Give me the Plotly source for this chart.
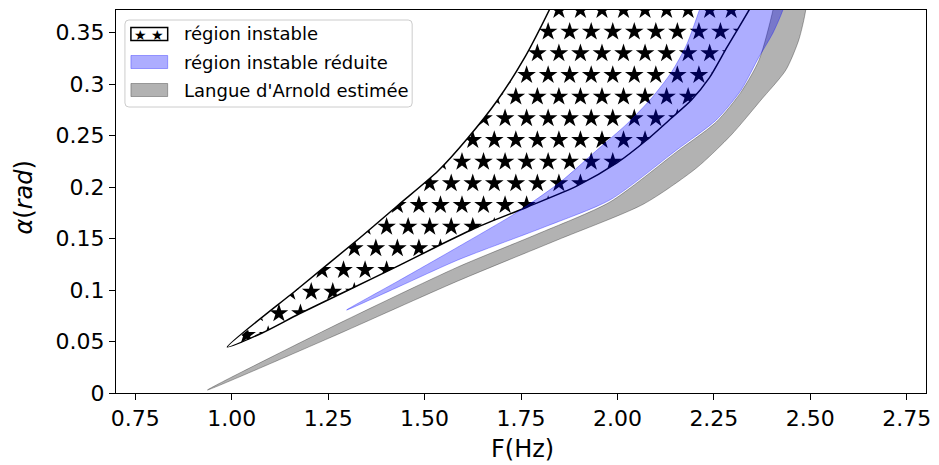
import numpy as np
import plotly.graph_objects as go

# ---------------- axes ----------------
X_RANGE = [0.7, 2.8]
Y_RANGE = [0.0, 0.372]
X_TICKS = [0.75, 1.00, 1.25, 1.50, 1.75, 2.00, 2.25, 2.50, 2.75]
Y_TICKS = [0, 0.05, 0.10, 0.15, 0.20, 0.25, 0.30, 0.35]
X_TITLE = "F(Hz)"
Y_TITLE = "<i>α</i>(<i>rad</i>)"

# ---------------- data (F in Hz, alpha in rad) ----------------
# region instable (star hatched): left & right boundaries, from the tip upward
star_left_F = [0.9886, 1.1741, 1.3287, 1.4318, 1.5348, 1.6121, 1.6894, 1.7590, 1.8234, 1.8595]
star_left_alpha = [0.0447, 0.1020, 0.1496, 0.1826, 0.2156, 0.2477, 0.2846, 0.3254, 0.3720, 0.4011]
star_right_F = [0.9886, 1.0788, 1.1741, 1.3029, 1.4318, 1.5348, 1.6379, 1.7667, 1.8956, 1.9986,
                2.0759, 2.1403, 2.1919, 2.2382, 2.2846, 2.3413, 2.3851]
star_right_alpha = [0.0447, 0.0583, 0.0767, 0.1000, 0.1234, 0.1428, 0.1612, 0.1807, 0.2011, 0.2234,
                    0.2457, 0.2671, 0.2846, 0.3060, 0.3361, 0.3720, 0.4011]

# region instable reduite (blue)
blue_left_F = [1.2978, 1.4318, 1.5864, 1.7410, 1.8518, 1.9471, 2.0244, 2.0888, 2.1404, 2.1790, 2.2125, 2.2383]
blue_left_alpha = [0.0806, 0.1088, 0.1418, 0.1758, 0.2049, 0.2360, 0.2613, 0.2865, 0.3118, 0.3380, 0.3720, 0.4011]
blue_right_F = [1.2978, 1.4318, 1.5864, 1.8106, 1.9806, 2.1533, 2.2563, 2.3207, 2.3671, 2.4032, 2.4289, 2.4495]
blue_right_alpha = [0.0806, 0.1030, 0.1292, 0.1612, 0.1875, 0.2360, 0.2652, 0.2943, 0.3264, 0.3497, 0.3720, 0.4011]

# langue d'Arnold estimee (gray)
gray_left_F = [0.9371, 1.2591, 1.5864, 1.7925, 1.9806, 2.1533, 2.2563, 2.3207, 2.3671, 2.4032, 2.4160]
gray_left_alpha = [0.0029, 0.0641, 0.1224, 0.1544, 0.1855, 0.2341, 0.2632, 0.2924, 0.3234, 0.3720, 0.4011]
gray_right_F = [0.9371, 1.2591, 1.5864, 1.8441, 2.0683, 2.2048, 2.2950, 2.3723, 2.4367, 2.4702, 2.4882, 2.4934]
gray_right_alpha = [0.0029, 0.0544, 0.1088, 0.1486, 0.1836, 0.2185, 0.2506, 0.2846, 0.3137, 0.3429, 0.3720, 0.4011]

legend_labels = ["région instable", "région instable réduite", "Langue d'Arnold estimée"]

# ---------------- styles ----------------
FONT = "DejaVu Sans"
BLUE_FILL = "rgba(0,0,255,0.32)"
GRAY_FILL = "rgba(0,0,0,0.30)"
W, H = 939, 465
ML, MR, MT, MB = 116, 8, 10, 72
PW, PH = W - ML - MR, H - MT - MB
px_per_F = PW / (X_RANGE[1] - X_RANGE[0])
px_per_a = PH / (Y_RANGE[1] - Y_RANGE[0])
SMOOTH = 0.7

# star hatch pattern (pixel spacing -> data units)
HATCH_PX = 21.67
hatch_dF = HATCH_PX / px_per_F
hatch_da = HATCH_PX / px_per_a
hatch_F0, hatch_a0 = 1.7366, 0.2878
STAR_SIZE = 14


def polygon(lf, la, rf, ra):
    return list(lf) + list(rf[::-1]), list(la) + list(ra[::-1])


star_px, star_py = polygon(star_left_F, star_left_alpha, star_right_F, star_right_alpha)
blue_px, blue_py = polygon(blue_left_F, blue_left_alpha, blue_right_F, blue_right_alpha)
gray_px, gray_py = polygon(gray_left_F, gray_left_alpha, gray_right_F, gray_right_alpha)

# hatch grid covering the star region's bounding box
fmin, fmax = min(star_px) - hatch_dF, max(star_px) + hatch_dF
amin, amax = min(star_py) - hatch_da, max(star_py) + hatch_da
k0 = int(np.floor((amin - hatch_a0) / hatch_da))
k1 = int(np.ceil((amax - hatch_a0) / hatch_da))
hx, hy = [], []
for k in range(k0, k1 + 1):
    a = hatch_a0 + k * hatch_da
    off = hatch_dF / 2 if (k % 2) else 0.0
    m0 = int(np.floor((fmin - hatch_F0 - off) / hatch_dF))
    m1 = int(np.ceil((fmax - hatch_F0 - off) / hatch_dF))
    for m in range(m0, m1 + 1):
        hx.append(hatch_F0 + off + m * hatch_dF)
        hy.append(a)

# white mask with a hole shaped like the star region (keyhole polygon)
tipF, tipA = star_px[0], star_py[0]
xlo, xhi = X_RANGE[0] - 1, X_RANGE[1] + 1
ylo, yhi = Y_RANGE[0] - 1, Y_RANGE[1] + 1
mask_x = [tipF, xlo, xlo, xhi, xhi, xlo, xlo, tipF] + star_px
mask_y = [tipA, tipA, ylo, ylo, yhi, yhi, tipA, tipA] + star_py

fig = go.Figure()
fig.add_trace(go.Scatter(x=hx, y=hy, mode="markers", hoverinfo="skip",
                         marker=dict(symbol="star", size=STAR_SIZE, color="black", line=dict(width=0))))
fig.add_trace(go.Scatter(x=mask_x, y=mask_y, mode="lines", fill="toself", fillcolor="white",
                         line=dict(width=0, color="white", shape="spline", smoothing=SMOOTH),
                         hoverinfo="skip"))
fig.add_trace(go.Scatter(x=star_px, y=star_py, mode="lines",
                         line=dict(color="black", width=1.5, shape="spline", smoothing=SMOOTH),
                         hoverinfo="skip"))
fig.add_trace(go.Scatter(x=gray_px, y=gray_py, mode="lines", fill="toself", fillcolor=GRAY_FILL,
                         line=dict(color=GRAY_FILL, width=1, shape="spline", smoothing=SMOOTH),
                         hoverinfo="skip"))
fig.add_trace(go.Scatter(x=blue_px, y=blue_py, mode="lines", fill="toself", fillcolor=BLUE_FILL,
                         line=dict(color=BLUE_FILL, width=1, shape="spline", smoothing=SMOOTH),
                         hoverinfo="skip"))


def px2paper_x(px):
    return (px - ML) / PW


def px2paper_y(py):
    return (MT + PH - py) / PH


shapes, annotations = [], []
# legend frame (rounded)
bx0, bx1, by0, by1 = px2paper_x(125), px2paper_x(414), px2paper_y(107), px2paper_y(20)
rx, ry = 4 / PW, 4 / PH
path = (f"M {bx0+rx},{by0} L {bx1-rx},{by0} Q {bx1},{by0} {bx1},{by0+ry} "
        f"L {bx1},{by1-ry} Q {bx1},{by1} {bx1-rx},{by1} L {bx0+rx},{by1} "
        f"Q {bx0},{by1} {bx0},{by1-ry} L {bx0},{by0+ry} Q {bx0},{by0} {bx0+rx},{by0} Z")
shapes.append(dict(type="path", xref="paper", yref="paper", path=path,
                   fillcolor="rgba(255,255,255,0.8)", line=dict(color="#cccccc", width=1), layer="above"))
rows = [34, 62, 90]
patch_styles = [("white", "black", 1.5), (BLUE_FILL, BLUE_FILL, 1), (GRAY_FILL, GRAY_FILL, 1)]
for (fc, lc, lw), row, lab in zip(patch_styles, rows, legend_labels):
    shapes.append(dict(type="rect", xref="paper", yref="paper",
                       x0=px2paper_x(131), x1=px2paper_x(168),
                       y0=px2paper_y(row + 6.5), y1=px2paper_y(row - 6.5),
                       fillcolor=fc, line=dict(color=lc, width=lw), layer="above"))
    annotations.append(dict(x=px2paper_x(182), y=px2paper_y(row), xref="paper", yref="paper",
                            text=lab, showarrow=False, xanchor="left", yanchor="middle",
                            font=dict(family=FONT, size=18, color="black")))
annotations.append(dict(x=px2paper_x(149.5), y=px2paper_y(rows[0] + 1), xref="paper", yref="paper",
                        text="★ ★", showarrow=False, xanchor="center", yanchor="middle",
                        font=dict(family=FONT, size=14, color="black")))
# axis titles
annotations.append(dict(x=px2paper_x(525), y=px2paper_y(449), xref="paper", yref="paper", text=X_TITLE,
                        showarrow=False, xanchor="center", yanchor="middle",
                        font=dict(family=FONT, size=24, color="black")))
annotations.append(dict(x=px2paper_x(23), y=px2paper_y(198), xref="paper", yref="paper", text=Y_TITLE,
                        showarrow=False, xanchor="center", yanchor="middle", textangle=-90,
                        font=dict(family=FONT, size=24, color="black")))

fig.update_layout(
    width=W, height=H,
    margin=dict(l=ML, r=MR, t=MT, b=MB, pad=0),
    plot_bgcolor="white", paper_bgcolor="white",
    showlegend=False,
    font=dict(family=FONT, color="black"),
    shapes=shapes, annotations=annotations,
)
axis_common = dict(ticks="outside", ticklen=6, tickwidth=1, tickcolor="black",
                   showline=True, linecolor="black", linewidth=1, mirror=True,
                   showgrid=False, zeroline=False,
                   tickfont=dict(family=FONT, size=22, color="black"))
fig.update_xaxes(range=X_RANGE, tickvals=X_TICKS, ticktext=[f"{v:.2f}" for v in X_TICKS], **axis_common)
fig.update_yaxes(range=Y_RANGE, tickvals=Y_TICKS, ticktext=[f"{v:g}" for v in Y_TICKS], **axis_common)

# remove the default 8px page margin so the figure sits at the window's corner
fig.write_html("out.html", config={"displayModeBar": False, "staticPlot": True},
               post_script="document.body.style.margin='0';document.body.style.overflow='hidden';")
